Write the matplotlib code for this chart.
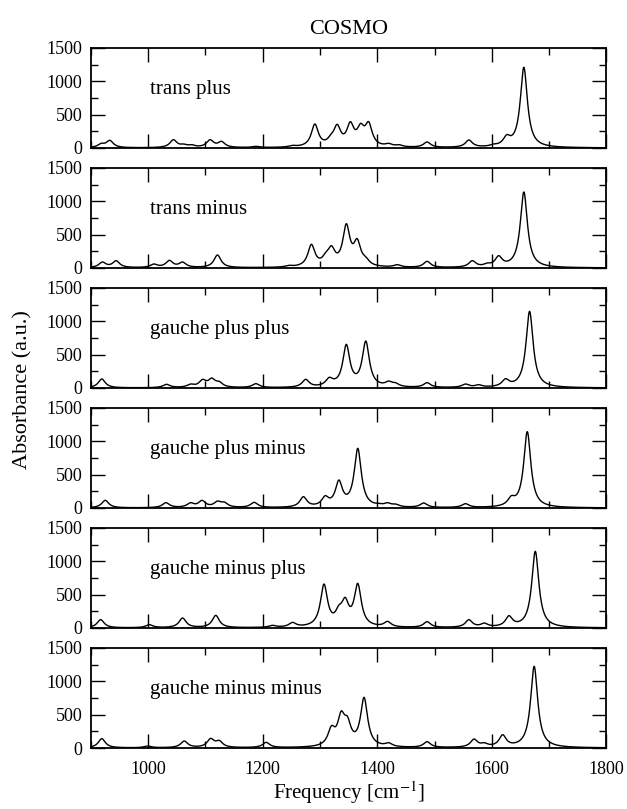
import numpy as np
import matplotlib
matplotlib.use('Agg')
import matplotlib.pyplot as plt
from matplotlib.ticker import MultipleLocator

plt.rcParams['font.family'] = ['Liberation Serif', 'DejaVu Serif']
plt.rcParams['mathtext.fontset'] = 'stix'

# peak positions (cm-1) and apparent peak heights
names = ['trans plus', 'trans minus', 'gauche plus plus',
         'gauche plus minus', 'gauche minus plus', 'gauche minus minus']

tp_pos = [918, 933, 1044, 1062, 1076, 1108, 1128, 1188, 1252, 1275, 1291, 1319,
          1330, 1353, 1371, 1385, 1420, 1438, 1487, 1560, 1603, 1626, 1656]
tp_h = [70, 115, 125, 60, 50, 125, 100, 25, 40, 50, 360, 205,
        355, 395, 370, 395, 70, 50, 90, 120, 60, 200, 1210]

tm_pos = [920, 944, 1010, 1037, 1060, 1121, 1246, 1269, 1285, 1310, 1320, 1346,
          1365, 1380, 1435, 1487, 1566, 1592, 1612, 1656]
tm_h = [90, 110, 60, 115, 90, 195, 40, 60, 355, 235, 335, 665,
        440, 170, 50, 100, 110, 75, 185, 1140]

gpp_pos = [919, 1032, 1074, 1095, 1111, 1124, 1188, 1275, 1316, 1326, 1346, 1380,
           1420, 1432, 1487, 1554, 1577, 1624, 1666]
gpp_h = [135, 55, 60, 130, 150, 100, 65, 130, 160, 140, 655, 705,
         105, 80, 80, 60, 50, 140, 1150]

gpm_pos = [925, 1031, 1074, 1094, 1121, 1133, 1185, 1271, 1309, 1333, 1366, 1403,
           1418, 1432, 1481, 1554, 1634, 1662]
gpm_h = [115, 80, 80, 115, 105, 90, 85, 170, 185, 420, 895, 70,
         80, 60, 75, 65, 185, 1145]

gmp_pos = [917, 1002, 1060, 1118, 1217, 1252, 1307, 1333, 1344, 1366, 1418, 1487,
           1560, 1587, 1630, 1676]
gmp_h = [125, 50, 150, 190, 40, 85, 660, 345, 460, 670, 100, 95,
         125, 75, 185, 1150]

gmm_pos = [919, 999, 1063, 1109, 1124, 1206, 1320, 1337, 1348, 1377, 1420, 1487,
           1569, 1587, 1619, 1674]
gmm_h = [140, 30, 105, 145, 115, 85, 335, 555, 475, 760, 80, 95,
         135, 80, 200, 1225]

peaks = [(tp_pos, tp_h), (tm_pos, tm_h), (gpp_pos, gpp_h),
         (gpm_pos, gpm_h), (gmp_pos, gmp_h), (gmm_pos, gmm_h)]

hwhm = 7.5
freq = np.linspace(900, 1800, 3000)


def lorentz(x, x0):
    return 1.0 / (1.0 + ((x - x0) / hwhm) ** 2)


def spectrum(pos, h):
    pos = np.array(pos, float)
    h = np.array(h, float)
    # find stick intensities so that the broadened curve hits the read heights
    L = lorentz(pos[:, None], pos[None, :])
    a = h.copy()
    for _ in range(300):
        a = np.clip(a + 0.5 * (h - L @ a), 0, None)
    return (a[None, :] * lorentz(freq[:, None], pos[None, :])).sum(axis=1)


fig, axes = plt.subplots(6, 1, figsize=(6.27, 8.09), dpi=100, sharex=True)
fig.subplots_adjust(left=0.145, right=0.967, top=0.9407, bottom=0.0754, hspace=0.2)

for ax, name, (pos, h) in zip(axes, names, peaks):
    ax.plot(freq, spectrum(pos, h), color='black', lw=1.0)
    ax.set_xlim(900, 1800)
    ax.set_ylim(0, 1500)
    ax.xaxis.set_major_locator(MultipleLocator(200))
    ax.xaxis.set_minor_locator(MultipleLocator(100))
    ax.yaxis.set_major_locator(MultipleLocator(500))
    ax.yaxis.set_minor_locator(MultipleLocator(250))
    ax.tick_params(which='both', direction='in', top=True, right=True,
                   labelsize=13, width=1.0)
    ax.tick_params(which='major', length=10)
    ax.tick_params(which='minor', length=5)
    ax.tick_params(axis='y', pad=6)
    ax.tick_params(axis='x', pad=9)
    for s in ax.spines.values():
        s.set_linewidth(1.3)
    ax.text(1003, 870, name, fontsize=15, va='center', ha='left')

axes[0].set_title('COSMO', fontsize=16, pad=10)
axes[-1].set_xlabel('Frequency [cm$^{-1}$]', fontsize=15, labelpad=1)
fig.text(0.037, 0.518, 'Absorbance (a.u.)', rotation=90, fontsize=16,
         va='center', ha='center')

fig.savefig('out.png', dpi=100)
